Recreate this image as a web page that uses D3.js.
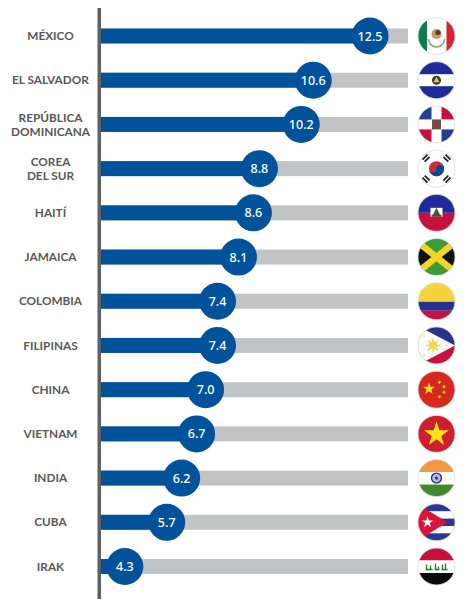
<!DOCTYPE html>
<html><head><meta charset="utf-8">
<script src="https://cdn.jsdelivr.net/npm/d3@7/dist/d3.min.js"></script>
<style>html,body{margin:0;padding:0;background:#fff}svg{display:block}</style></head>
<body><svg id="c" width="474" height="610"></svg>
<script>
const countries = ["MÉXICO","EL SALVADOR","REPÚBLICA|DOMINICANA","COREA|DEL SUR","HAITÍ","JAMAICA","COLOMBIA","FILIPINAS","CHINA","VIETNAM","INDIA","CUBA","IRAK"];
const values = [12.5,10.6,10.2,8.8,8.6,8.1,7.4,7.4,7.0,6.7,6.2,5.7,4.3];
const flagKeys = ["mx","sv","do","kr","ht","jm","co","ph","cn","vn","in","cu","iq"];
const BLUE="#00529b", GRAY="#c2c3c5", AXIS="#5f6062", TEXT="#58595b";
const FONT="Lato,sans-serif";
const svg=d3.select("#c");
const x=d3.scaleLinear().domain([0,13.77]).range([-3.7,408]);
const y=d3.scalePoint().domain(d3.range(values.length)).range([36,566.5]);
const BAR=15, R=18.5, FX=436.5;

const rows=svg.selectAll("g.row").data(values).join("g").attr("class","row").attr("transform",(d,i)=>`translate(0,${y(i)})`);
rows.append("rect").attr("x",100).attr("y",-BAR/2).attr("height",BAR).attr("width",408-100).attr("fill",GRAY);
rows.append("rect").attr("x",100).attr("y",-BAR/2).attr("height",BAR).attr("width",d=>x(d)-100).attr("fill",BLUE);
rows.append("circle").attr("cx",d=>x(d)).attr("r",R).attr("fill",BLUE);
rows.append("text").attr("x",d=>x(d)).attr("y",4.6).attr("text-anchor","middle").attr("fill","#fff")
  .attr("font-family","'Noto Sans',sans-serif").attr("font-weight",500).attr("font-size",12.5).text(d=>d.toFixed(1));

rows.each(function(d,i){
  const lines=countries[i].split("|");
  const t=d3.select(this).append("text").attr("text-anchor","middle").attr("fill",TEXT)
    .attr("font-family",FONT).attr("font-weight",700).attr("font-size",11.8);
  lines.forEach((l,k)=>{
    t.append("tspan").attr("x",50.5).attr("y",lines.length===1?4.2:(k===0?-2.8:11.6)).text(l);
  });
});

svg.append("rect").attr("x",97.5).attr("y",8).attr("width",3.5).attr("height",591).attr("fill",AXIS);

const defs=svg.append("defs");
defs.append("clipPath").attr("id","disc").append("circle").attr("r",R);

function star(g,cx,cy,r,fill,rot=0){
  const pts=d3.range(10).map(k=>{const a=-Math.PI/2+rot+k*Math.PI/5,q=k%2?r*0.382:r;return [cx+q*Math.cos(a),cy+q*Math.sin(a)];});
  g.append("polygon").attr("points",pts.join(" ")).attr("fill",fill);
}
const rect=(g,a,b,w,h,f)=>g.append("rect").attr("x",a).attr("y",b).attr("width",w).attr("height",h).attr("fill",f);
const poly=(g,p,f)=>g.append("polygon").attr("points",p.join(" ")).attr("fill",f);
const circ=(g,a,b,r,f)=>g.append("circle").attr("cx",a).attr("cy",b).attr("r",r).attr("fill",f);
const S=R;
const draw={
 mx(g){rect(g,-S,-S,2*S,2*S,"#fff");rect(g,-S,-S,9,2*S,"#0e7a4e");rect(g,10,-S,9,2*S,"#d22630");
   g.append("path").attr("d","M-8,3A8,8 0 0 0 8,3").attr("fill","none").attr("stroke","#8aa37a").attr("stroke-width",1.6);
   circ(g,0,-2,5,"#c29a5a");circ(g,1.5,-3.5,2.6,"#5a3a20");},
 sv(g){rect(g,-S,-S,2*S,2*S,"#fff");rect(g,-S,-S,2*S,12.5,"#1f2a9c");rect(g,-S,6,2*S,13,"#1f2a9c");
   circ(g,0,0,4.5,"#3a3a2a");poly(g,[[0,-3.5],[3,2],[-3,2]],"#e4c65a");},
 do(g){rect(g,-S,-S,2*S,2*S,"#fff");rect(g,-S,-S,13.5,13.5,"#26408f");rect(g,5,-S,14,13.5,"#c8103e");
   rect(g,-S,5,13.5,14,"#c8103e");rect(g,5,5,14,14,"#26408f");rect(g,-4.5,-5,9,10,"#5a5a4e");rect(g,-2.5,-3,5,6,"#9a3b3b");},
 kr(g){rect(g,-S,-S,2*S,2*S,"#fff");
   circ(g,0,0,7.5,"#cd2e3a");
   g.append("path").attr("d","M-7.5,0A7.5,7.5 0 0 0 7.5,0A3.75,3.75 0 0 0 0,0A3.75,3.75 0 0 1 -7.5,0Z").attr("fill","#0047a0");
   [[-11.5,-11.5,-45],[11.5,-11.5,45],[-11.5,11.5,45],[11.5,11.5,-45]].forEach(([a,b,r])=>{
     const t=g.append("g").attr("transform",`translate(${a},${b}) rotate(${r})`);
     [-3,0,3].forEach(d=>rect(t,-3.5,d-0.9,7,1.8,"#222"));});},
 ht(g){rect(g,-S,-S,2*S,S,"#1f2a9c");rect(g,-S,0,2*S,S,"#c8103e");rect(g,-6,-5,12,9,"#fff");poly(g,[[0,-5],[4,3],[-4,3]],"#3a5a2a");rect(g,-5,2,10,2,"#7a3a2a");},
 jm(g){rect(g,-S,-S,2*S,2*S,"#3f9a3a");poly(g,[[-S,-S],[0,0],[-S,S]],"#111");poly(g,[[S,-S],[0,0],[S,S]],"#111");
   g.append("path").attr("d",`M${-S},${-S*0.8}L${S},${S*0.8}M${-S},${S*0.8}L${S},${-S*0.8}`).attr("stroke","#f5d327").attr("stroke-width",6.5);},
 co(g){rect(g,-S,-S,2*S,S+0.5,"#f9d33c");rect(g,-S,0.5,2*S,9,"#24338f");rect(g,-S,9.5,2*S,9,"#c8103e");},
 ph(g){rect(g,-S,-S,2*S,S,"#24348f");rect(g,-S,0,2*S,S,"#c8103e");poly(g,[[-S-2,-S-2],[S,0],[-S-2,S+2]],"#fff");
   circ(g,-3.5,0,4,"#f6d452");d3.range(8).forEach(k=>{const a=k*Math.PI/4;g.append("line").attr("x1",-3.5).attr("y1",0).attr("x2",-3.5+7*Math.cos(a)).attr("y2",7*Math.sin(a)).attr("stroke","#f6d452").attr("stroke-width",1.6);});
   star(g,-12.5,-9.5,1.6,"#f6d452");star(g,-12.5,10,1.6,"#f6d452");star(g,10,0,1.6,"#f6d452");},
 cn(g){rect(g,-S,-S,2*S,2*S,"#d5281f");star(g,-7.5,-1,6.5,"#fbdc20");[[3,-7.5],[7.5,-3],[7.5,2.5],[3,7]].forEach(([a,b])=>star(g,a,b,2.3,"#fbdc20",.5));},
 vn(g){rect(g,-S,-S,2*S,2*S,"#cf1f2e");star(g,0,0.5,13,"#fbe41e");},
 in(g){rect(g,-S,-S,2*S,12.5,"#f29a43");rect(g,-S,-6,2*S,12.5,"#fff");rect(g,-S,6.5,2*S,12,"#3f8a2a");
   g.append("circle").attr("r",5).attr("fill","#b9b9e0").attr("stroke","#2c2f8f").attr("stroke-width",1.4);circ(g,0,0,1.6,"#2c2f8f");},
 cu(g){rect(g,-S,-S,2*S,2*S,"#fff");[-S,-3.7,11].forEach(v=>rect(g,-S,v,2*S,7.4,"#2a3a92"));poly(g,[[-S-1,-S],[11,0],[-S-1,S]],"#dc1438");star(g,-9,0,6,"#fff");},
 iq(g){rect(g,-S,-S,2*S,12.5,"#c8103e");rect(g,-S,-6,2*S,12.5,"#fff");rect(g,-S,6.5,2*S,12,"#0a0a0a");
   g.append("path").attr("d","M-11,3H-4M-2,3H3M5,3H11M-10,3V-2M-6,3V-1M-1,3V-3M2,3V0M6,3V-2M9,3V-3").attr("stroke","#1d7a3a").attr("stroke-width",1.3).attr("fill","none");}
};
const fl=svg.selectAll("g.flag").data(flagKeys).join("g").attr("class","flag").attr("transform",(d,i)=>`translate(${FX},${y(i)})`);
fl.each(function(k){
  const g=d3.select(this);
  draw[k](g.append("g").attr("clip-path","url(#disc)"));
  g.append("circle").attr("r",R).attr("fill","none").attr("stroke","#dcdcdc").attr("stroke-width",0.8);
});
</script></body></html>
